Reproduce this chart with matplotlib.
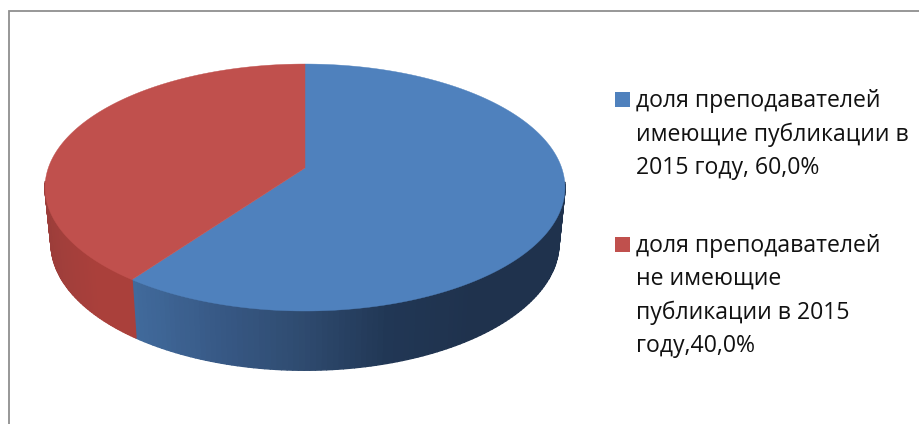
import numpy as np
import matplotlib
matplotlib.use("Agg")
import matplotlib.pyplot as plt
from matplotlib.collections import PolyCollection
from matplotlib.colors import LinearSegmentedColormap

shares = [60.0, 40.0]
labels = ["доля преподавателей\nимеющие публикации в\n2015 году, 60,0%",
          "доля преподавателей\nне имеющие\nпубликации в 2015\nгоду,40,0%"]
top_colors = ["#4F81BD", "#C0504D"]
wall_colors = [["#426C9E", "#385A87", "#2F4B70", "#213755", "#1F324D", "#1F324D"],
               ["#9C3D3A", "#A23F3B", "#A63F3B", "#AA403B", "#AA403B", "#AA403B"]]

plt.rcParams['font.family'] = ['Open Sans', 'DejaVu Sans']

# perspective of the tilted disc, in pixels
cx, cy = 305, 168
kx, ky, p = 256.7, 120.4, 0.158
bx, by, by0 = 250.8, 124, 223

def rim(theta, kx, ky, cy):
    #theta runs clockwise from the top of the disc
    u, v = np.sin(theta), np.cos(theta)
    s = 1/(1+p*v)
    return cx+kx*u*s, cy-ky*v*s

fig = plt.figure(figsize=(9.2, 4.24), dpi=100)
ax = fig.add_axes([0, 0, 1, 1])
ax.set_xlim(0, 920)
ax.set_ylim(424, 0)
ax.axis("off")

ax.plot([9.5, 9.5, 920], [424, 11, 11], color="#8F8F8F", lw=1.3, solid_joinstyle="miter")

edges = 2*np.pi*np.concatenate([[0], np.cumsum(shares)])/sum(shares)

# side wall first, the top face covers what is behind it
for i in range(len(shares)):
    cmap = LinearSegmentedColormap.from_list("wall", wall_colors[i])
    th = np.linspace(edges[i], edges[i+1], 200)
    th = th[np.cos(th) < -0.1]
    x1, y1 = rim(th, kx, ky, cy)
    x2, y2 = rim(th, bx, by, by0)
    quads = [[(x1[j], y1[j]), (x1[j+1], y1[j+1]), (x2[j+1], y2[j+1]), (x2[j], y2[j])]
             for j in range(len(th)-1)]
    cols = [cmap((x2[j]-130)/(560-130)) if i == 0 else cmap((x2[j]-50)/(136-50))
            for j in range(len(th)-1)]
    ax.add_collection(PolyCollection(quads, facecolors=cols, edgecolors=cols, linewidths=1.0))

for i in range(len(shares)):
    th = np.linspace(edges[i], edges[i+1], 300)
    x, y = rim(th, kx, ky, cy)
    ax.fill(np.r_[cx, x], np.r_[cy, y], color=top_colors[i], lw=0.3)

ly = [88, 233]
for i in range(len(labels)):
    ax.add_patch(plt.Rectangle((615, ly[i]+4), 15, 15, color=top_colors[i], lw=0))
    ax.text(636, ly[i]+1, labels[i], fontsize=16.6, color="#111111", va="top", ha="left",
            linespacing=1.5)

fig.savefig("out.png", dpi=100)
